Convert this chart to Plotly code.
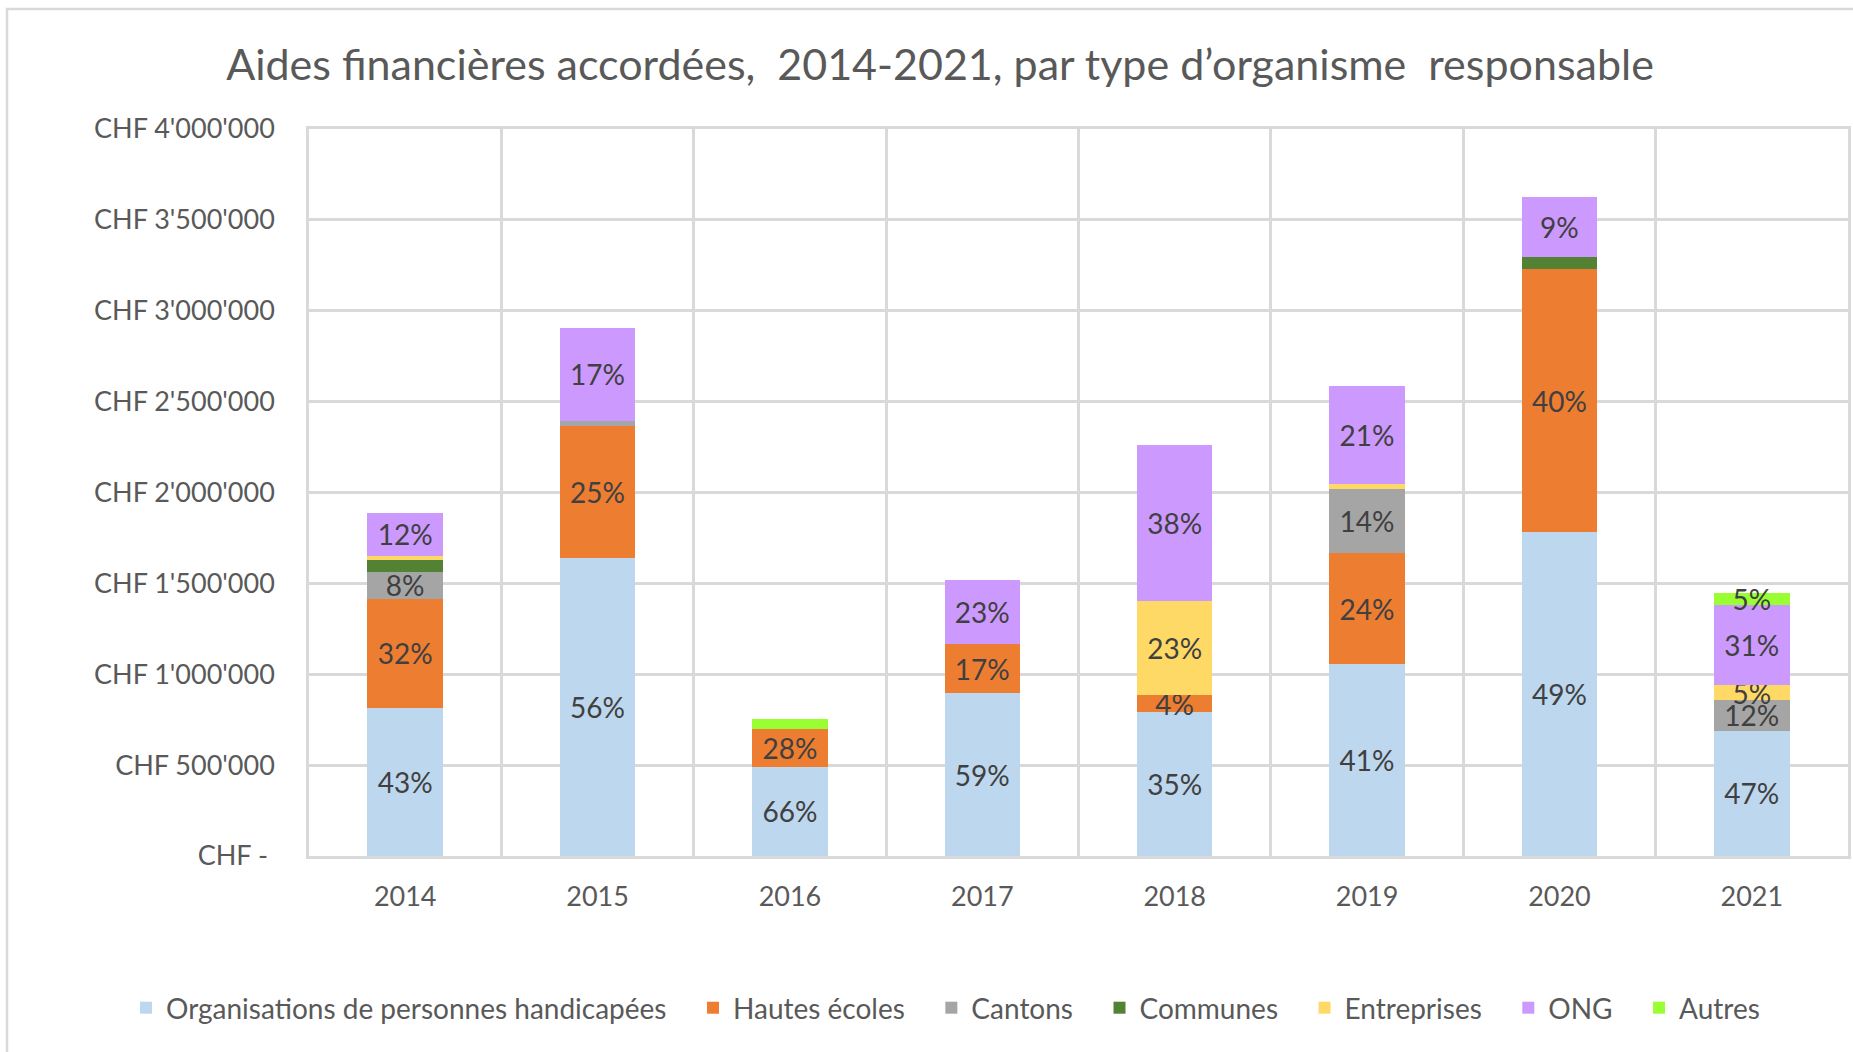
import plotly.graph_objects as go

# données (CHF)
years = ["2014", "2015", "2016", "2017", "2018", "2019", "2020", "2021"]

oph = [815000, 1638000, 492000, 896000, 790000, 1056000, 1780000, 688000]
hautes_ecoles = [599000, 730000, 206000, 270000, 97000, 609000, 1449000, 0]
cantons = [150000, 27000, 0, 0, 0, 354000, 0, 172000]
communes = [63000, 0, 0, 0, 0, 0, 69000, 0]
entreprises = [25000, 0, 0, 0, 517000, 26000, 0, 79000]
ong = [235000, 509000, 0, 354000, 858000, 540000, 328000, 441000]
autres = [0, 0, 55000, 0, 0, 0, 0, 67000]

# étiquettes de pourcentage affichées (None = pas d'étiquette)
pct_oph = [43, 56, 66, 59, 35, 41, 49, 47]
pct_hautes_ecoles = [32, 25, 28, 17, 4, 24, 40, None]
pct_cantons = [8, None, None, None, None, 14, None, 12]
pct_communes = [None] * 8
pct_entreprises = [None, None, None, None, 23, None, None, 5]
pct_ong = [12, 17, None, 23, 38, 21, 9, 31]
pct_autres = [None, None, None, None, None, None, None, 5]

y_tickvals = [0, 500000, 1000000, 1500000, 2000000, 2500000, 3000000, 3500000, 4000000]
y_ticktext = ["CHF - ", "CHF 500'000", "CHF 1'000'000", "CHF 1'500'000", "CHF 2'000'000",
              "CHF 2'500'000", "CHF 3'000'000", "CHF 3'500'000", "CHF 4'000'000"]

series = [
    ("Organisations de personnes handicapées", oph, pct_oph, "#BDD7EE"),
    ("Hautes écoles", hautes_ecoles, pct_hautes_ecoles, "#ED7D31"),
    ("Cantons", cantons, pct_cantons, "#A5A5A5"),
    ("Communes", communes, pct_communes, "#548235"),
    ("Entreprises", entreprises, pct_entreprises, "#FFD966"),
    ("ONG", ong, pct_ong, "#CC99FF"),
    ("Autres", autres, pct_autres, "#99FF33"),
]

FONT = "Lato"
TEXT = "#595959"
GRID = "#D9D9D9"

W, H = 1853, 1052
L, R, T, B = 309, 5, 129, 196
plot_w = W - L - R
plot_h = H - T - B

# un peu d'espace après chaque entrée de légende, comme dans Excel
PAD = "\u00a0" * 3

fig = go.Figure()
for name, values, pcts, color in series:
    labels = [f"{p}%" if p is not None else "" for p in pcts]
    fig.add_trace(go.Bar(
        name=name + PAD,
        x=years,
        y=values,
        marker=dict(color=color, line=dict(width=0)),
        text=labels,
        textposition="inside",
        insidetextanchor="middle",
        textangle=0,
        constraintext="none",
        textfont=dict(family=FONT, size=28, color="#404040"),
    ))

fig.update_layout(
    barmode="stack",
    bargap=0.607,
    width=W,
    height=H,
    autosize=False,
    margin=dict(l=L, r=R, t=T, b=B, autoexpand=False),
    paper_bgcolor="white",
    plot_bgcolor="white",
    font=dict(family=FONT, size=27, color=TEXT),
    uniformtext=dict(minsize=28, mode="show"),
    title=dict(
        text="Aides financières accordées,\u00a0 2014-2021, par type d’organisme\u00a0 responsable",
        font=dict(family=FONT, size=43, color=TEXT),
        x=940 / W,
        xanchor="center",
        xref="container",
        y=1 - 65 / H,
        yanchor="middle",
    ),
    showlegend=True,
    legend=dict(
        orientation="h",
        traceorder="normal",
        x=(126 - L) / plot_w,
        xanchor="left",
        y=-(1008 - (H - B)) / plot_h,
        yanchor="middle",
        font=dict(family=FONT, size=28, color=TEXT),
        itemwidth=30,
        bgcolor="rgba(0,0,0,0)",
    ),
    xaxis=dict(
        type="category",
        tickson="boundaries",
        showgrid=True,
        gridcolor=GRID,
        gridwidth=2.5,
        showline=True,
        linecolor=GRID,
        linewidth=2.5,
        mirror=True,
        ticks="",
        ticklabelstandoff=15,
        tickfont=dict(family=FONT, size=27, color=TEXT),
    ),
    yaxis=dict(
        range=[0, 4000000],
        tickvals=y_tickvals,
        ticktext=y_ticktext,
        showgrid=True,
        gridcolor=GRID,
        gridwidth=2.5,
        showline=True,
        linecolor=GRID,
        linewidth=2.5,
        mirror=True,
        zeroline=False,
        ticks="",
        ticklabelstandoff=26,
        tickfont=dict(family=FONT, size=27, color=TEXT),
    ),
)

# cadre extérieur du graphique (coupé à droite et en bas dans l'original)
fig.add_shape(
    type="rect",
    xref="paper", yref="paper",
    x0=(7 - L) / plot_w, x1=(W + 20 - L) / plot_w,
    y0=-(H + 20 - (H - B)) / plot_h, y1=((H - B) - 9) / plot_h,
    line=dict(color=GRID, width=2.5),
    fillcolor="rgba(0,0,0,0)",
    layer="below",
)

fig.write_html(
    "out.html",
    config={"displayModeBar": False},
    post_script="document.body.style.margin='0';",
)
